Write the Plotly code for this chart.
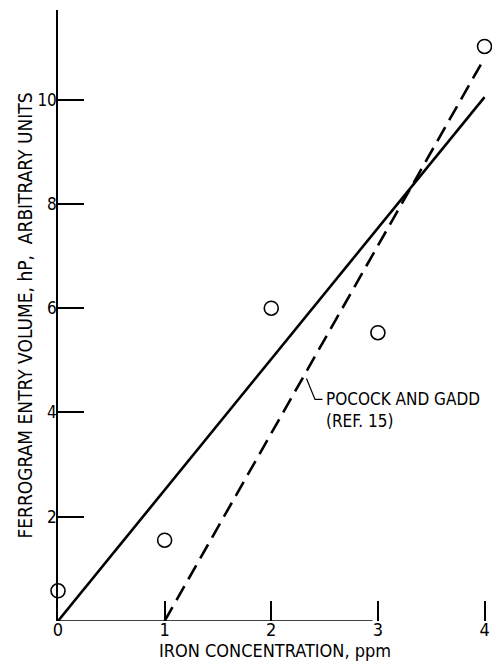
import plotly.graph_objects as go

# Data
iron_ppm = [0, 1, 2, 3, 4]
entry_volume = [0.58, 1.55, 6.0, 5.53, 11.02]

fit_x = [0, 4]
fit_y = [0, 10.05]

pocock_x = [1, 4]
pocock_y = [0, 10.8]

x_ticks = [0, 1, 2, 3, 4]
x_tick_labels = ["0", "1", "2", "3", "4"]
y_ticks = [2, 4, 6, 8, 10]
y_tick_labels = ["2", "4", "6", "8", "10"]

FONT = "DejaVu Sans Condensed, Liberation Sans Narrow, Arial Narrow, DejaVu Sans, sans-serif"

fig = go.Figure()

fig.add_trace(go.Scatter(
    x=fit_x, y=fit_y, mode="lines",
    line=dict(color="black", width=2.6),
    showlegend=False, hoverinfo="skip",
))
fig.add_trace(go.Scatter(
    x=pocock_x, y=pocock_y, mode="lines",
    line=dict(color="black", width=2.6, dash="16px,8px"),
    showlegend=False, hoverinfo="skip",
))
fig.add_trace(go.Scatter(
    x=iron_ppm, y=entry_volume, mode="markers",
    marker=dict(symbol="circle-open", size=14, color="black", line=dict(width=1.6)),
    showlegend=False, cliponaxis=False,
))

# leader line for the Pocock and Gadd label
fig.add_shape(type="path", xref="x", yref="y",
              path="M 2.33 4.65 L 2.41 4.25 L 2.48 4.25",
              line=dict(color="black", width=1.2))

fig.add_annotation(x=2.49, y=4.25, xref="x", yref="y",
                   text="POCOCK AND GADD<br>(REF. 15)", showarrow=False,
                   xanchor="left", yanchor="top", align="left",
                   yshift=12,
                   font=dict(family=FONT, size=17, color="black"))

# short x axis line (ends before 3, as in the scan)
fig.add_shape(type="line", xref="x", yref="y", x0=0, x1=2.95, y0=0, y1=0,
              line=dict(color="black", width=1.3))

fig.update_layout(
    width=492, height=669,
    margin=dict(l=58, r=0, t=10, b=48, autoexpand=False),
    plot_bgcolor="white", paper_bgcolor="white",
    font=dict(family=FONT, color="black"),
    xaxis=dict(
        range=[0, 4.07], showgrid=False, zeroline=False, showline=False,
        automargin=False,
        tickmode="array", tickvals=x_ticks, ticktext=x_tick_labels,
        ticks="inside", ticklen=20, tickwidth=1.5, tickcolor="black",
        ticklabelstandoff=-4,
        tickfont=dict(size=18, family=FONT),
        title=dict(text="IRON CONCENTRATION, ppm", font=dict(size=18, family=FONT), standoff=2),
    ),
    yaxis=dict(
        range=[0, 11.72], showgrid=False, zeroline=False,
        automargin=False,
        showline=True, linecolor="black", linewidth=1.5,
        tickmode="array", tickvals=y_ticks, ticktext=y_tick_labels,
        ticks="inside", ticklen=26, tickwidth=1.5, tickcolor="black",
        ticklabelstandoff=-4,
        tickfont=dict(size=17, family=FONT),
        title=dict(text="FERROGRAM ENTRY VOLUME, hP,\u00a0\u00a0ARBITRARY UNITS",
                   font=dict(size=19, family=FONT), standoff=0),
    ),
)

# remove the page's default body margin and scrollbars so the figure fills the window
fig.write_html(
    "out.html",
    config={"displayModeBar": False},
    post_script="document.body.style.margin='0';document.body.style.overflow='hidden';",
)
